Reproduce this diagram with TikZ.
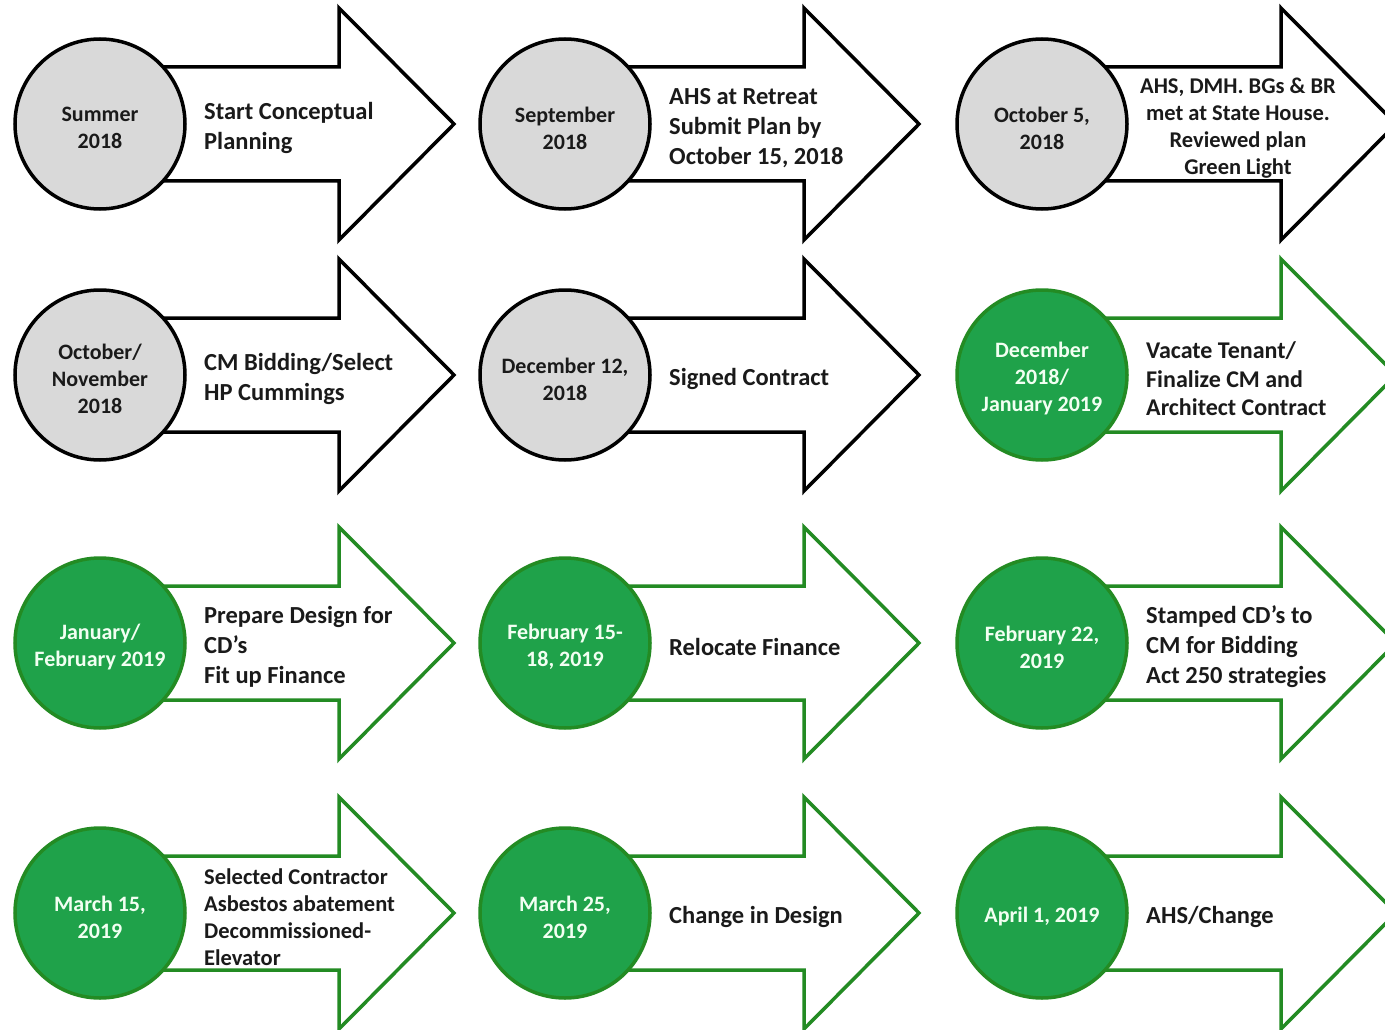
\documentclass[tikz,border=0pt]{standalone}
\usepackage{fontspec}
\setmainfont{Carlito}
\usetikzlibrary{calc}

\definecolor{greyfill}{HTML}{D9D9D9}
\definecolor{greenline}{HTML}{238B23}
\definecolor{greenfill}{HTML}{1FA24A}
\definecolor{inktext}{HTML}{1A1A1A}
\definecolor{paletext}{HTML}{F2FFF2}

\tikzset{
  greyarrow/.style={draw=black, fill=white, line width=3.5pt},
  greenarrow/.style={draw=greenline, fill=white, line width=3.5pt},
  datecirc/.style={circle, line width=3.5pt, minimum size=170pt, inner sep=0pt},
  greycirc/.style={datecirc, draw=black, fill=greyfill},
  greencirc/.style={datecirc, draw=greenline, fill=greenfill},
  datetext/.style={inner sep=0pt, align=center,
    font=\bfseries\fontsize{22}{27}\selectfont},
  greydate/.style={datetext, text=inktext},
  greendate/.style={datetext, text=paletext},
  task/.style={anchor=west, inner sep=0pt, align=left, text=inktext,
    font=\bfseries\fontsize{24.5}{30}\selectfont},
  smalltask/.style={font=\bfseries\fontsize{22.5}{27}\selectfont},
}

% one milestone: arrow, date circle, task text
\newcommand{\milestone}[6][]{%
  \coordinate (#2) at #3;
  \draw[#4arrow] ($(#2)+(40,-57)$) -- ++(199,0) -- ++(0,-59) -- ++(115,116)
    -- ++(-115,116) -- ++(0,-59) -- ++(-199,0) -- cycle;
  \node[#4circ] (#2circ) at (#2) {};
  \node[#4date] (#2date) at ($(#2)+(0,4)$) {#5};
  \node[task, #1] (#2task) at ($(#2)+(104,4)$) {#6};
}

\begin{document}
\begin{tikzpicture}[x=1pt, y=-1pt]
\useasboundingbox (0,0) rectangle (1385,1030);
\clip (0,0) rectangle (1385,1030);
\fill[white] (0,0) rectangle (1385,1030);

% first row
\milestone{summer}{(100,124)}{grey}{Summer\\2018}{Start Conceptual\\Planning}
\milestone{sept}{(565,124)}{grey}{September\\2018}{AHS at Retreat\\Submit Plan by\\October 15, 2018}
\milestone[anchor=center, xshift=92pt, align=center, smalltask]{octfive}{(1042,124)}{grey}{October 5,\\2018}{AHS, DMH. BGs \& BR\\met at State House.\\Reviewed plan\\Green Light}

% second row
\milestone{octnov}{(100,375)}{grey}{October/\\November\\2018}{CM Bidding/Select\\HP Cummings}
\milestone{dectwelve}{(565,375)}{grey}{December 12,\\2018}{Signed Contract}
\milestone[font=\bfseries\fontsize{24}{28.5}\selectfont]{decjan}{(1042,375)}{green}{December\\2018/\\January 2019}{Vacate Tenant/\\Finalize CM and\\Architect Contract}

% third row
\milestone{janfeb}{(100,643)}{green}{January/\\February 2019}{Prepare Design for\\CD’s\\Fit up Finance}
\milestone{febfifteen}{(565,643)}{green}{February 15-\\18, 2019}{Relocate Finance}
\milestone{febtwentytwo}{(1042,643)}{green}{February 22,\\2019}{Stamped CD’s to\\CM for Bidding\\Act 250 strategies}

% fourth row
\milestone[smalltask]{marfifteen}{(100,913)}{green}{March 15,\\2019}{Selected Contractor\\Asbestos abatement\\Decommissioned-\\Elevator}
\milestone{martwentyfive}{(565,913)}{green}{March 25,\\2019}{Change in Design}
\milestone{aprone}{(1042,913)}{green}{April 1, 2019}{AHS/Change}
\end{tikzpicture}
\end{document}
